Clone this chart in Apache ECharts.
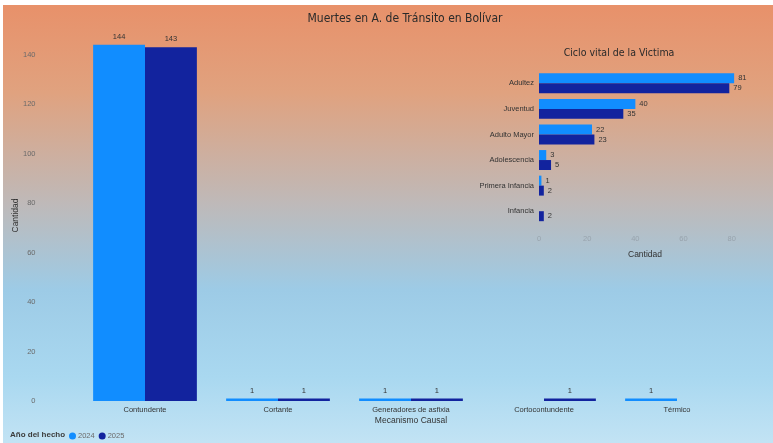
<!DOCTYPE html>
<html>
<head>
<meta charset="utf-8">
<script src="https://cdn.jsdelivr.net/npm/echarts@6/dist/echarts.min.js"></script>
<style>
html,body{margin:0;padding:0;background:#fff;}
#chart{width:773px;height:443px;}
</style>
</head>
<body>
<div id="chart"></div>
<script>
// Main chart data
const mecanismos = ['Contundente', 'Cortante', 'Generadores de asfixia', 'Cortocontundente', 'Térmico'];
const mec2024 = [144, 1, 1, null, 1];
const mec2025 = [143, 1, 1, 1, null];
const mainTicks = [0, 20, 40, 60, 80, 100, 120, 140];

// Inset chart data
const ciclos = ['Adultez', 'Juventud', 'Adulto Mayor', 'Adolescencia', 'Primera Infancia', 'Infancia'];
const ciclo2024 = [81, 40, 22, 3, 1, null];
const ciclo2025 = [79, 35, 23, 5, 2, 2];
const insetTicks = [0, 20, 40, 60, 80];

const years = ['2024', '2025'];
const C24 = '#118DFF', C25 = '#12239E';
const FONT = '"Liberation Sans", "DejaVu Sans", sans-serif';
const TFONT = '"DejaVu Sans Condensed", "Liberation Sans Narrow", sans-serif';

const chart = echarts.init(document.getElementById('chart'));
chart.setOption({
  backgroundColor: '#ffffff',
  textStyle: {fontFamily: FONT},
  graphic: [
    {type: 'rect', shape: {x: 3, y: 5, width: 770, height: 438}, z: -10, silent: true,
     style: {fill: new echarts.graphic.LinearGradient(0, 0, 0, 1, [
       {offset: 0, color: '#E8916A'},
       {offset: 0.2, color: '#E0A27F'},
       {offset: 0.45, color: '#BFB9B8'},
       {offset: 0.65, color: '#9DCBE6'},
       {offset: 0.85, color: '#A9D8F0'},
       {offset: 1, color: '#C2E3F4'}
     ])}},
    {type: 'text', left: 10, top: 431, style: {text: 'Año del hecho', fontSize: 8, fontWeight: 'bold', fill: '#3c3c3c', fontFamily: FONT}}
  ],
  title: [
    {text: 'Muertes en A. de Tránsito en Bolívar', left: 400, textAlign: 'center', top: 8,
     textStyle: {fontSize: 12, fontWeight: 'normal', color: '#2a2a2a', fontFamily: TFONT}},
    {text: 'Ciclo vital de la Victima', left: 614, textAlign: 'center', top: 43,
     textStyle: {fontSize: 10.5, fontWeight: 'normal', color: '#2a2a2a', fontFamily: TFONT}}
  ],
  legend: {
    data: years, left: 69, top: 432, icon: 'circle', itemWidth: 7, itemHeight: 7, itemGap: 4, padding: 0,
    textStyle: {fontSize: 7.5, color: '#6a6a6a', padding: [0, 0, 0, -3]}
  },
  grid: [
    {left: 78.5, right: 29.5, top: 30, bottom: 42, containLabel: false, outerBoundsMode: 'none'},
    {left: 539, width: 212, top: 70.5, bottom: 219, containLabel: false, outerBoundsMode: 'none'}
  ],
  xAxis: [
    {gridIndex: 0, type: 'category', data: mecanismos,
     axisLine: {show: false}, axisTick: {show: false},
     axisLabel: {fontSize: 7.5, color: '#333', margin: 5},
     name: 'Mecanismo Causal', nameLocation: 'middle', nameGap: 15, nameMoveOverlap: false,
     nameTextStyle: {fontSize: 8.5, color: '#333'}},
    {gridIndex: 1, type: 'value', min: 0, max: 88, interval: 20,
     axisLine: {show: false}, axisTick: {show: false}, splitLine: {show: false},
     axisLabel: {fontSize: 7.5, color: '#98a3ad', margin: 11, showMaxLabel: false,
       formatter: v => insetTicks.includes(v) ? String(v) : ''},
     name: 'Cantidad', nameLocation: 'middle', nameGap: 26, nameMoveOverlap: false,
     nameTextStyle: {fontSize: 8.5, color: '#333'}},
  ],
  yAxis: [
    {gridIndex: 0, type: 'value', min: 0, max: 150, interval: 20,
     axisLine: {show: false}, axisTick: {show: false}, splitLine: {show: false},
     axisLabel: {fontSize: 7.5, color: '#6a6a6a', margin: 43, showMaxLabel: false,
       formatter: v => mainTicks.includes(v) ? String(v) : ''},
     name: 'Cantidad', nameLocation: 'middle', nameGap: 58, nameRotate: 90, nameMoveOverlap: false,
     nameTextStyle: {fontSize: 8.5, color: '#333'}},
    {gridIndex: 1, type: 'category', data: ciclos, inverse: true,
     axisLine: {show: false}, axisTick: {show: false},
     axisLabel: {fontSize: 7.5, color: '#333', margin: 5}}
  ],
  series: [
    {name: '2024', type: 'bar', xAxisIndex: 0, yAxisIndex: 0, data: mec2024,
     itemStyle: {color: C24}, barGap: '0%', barCategoryGap: '22%',
     label: {show: true, position: 'top', distance: 4, fontSize: 7.5, color: '#333'}},
    {name: '2025', type: 'bar', xAxisIndex: 0, yAxisIndex: 0, data: mec2025,
     itemStyle: {color: C25}, barGap: '0%', barCategoryGap: '22%',
     label: {show: true, position: 'top', distance: 4, fontSize: 7.5, color: '#333'}},
    {name: '2024', type: 'bar', xAxisIndex: 1, yAxisIndex: 1, data: ciclo2024,
     itemStyle: {color: C24}, barGap: '0%', barCategoryGap: '22%',
     label: {show: true, position: 'right', distance: 4, fontSize: 7.5, color: '#333'}},
    {name: '2025', type: 'bar', xAxisIndex: 1, yAxisIndex: 1, data: ciclo2025,
     itemStyle: {color: C25}, barGap: '0%', barCategoryGap: '22%',
     label: {show: true, position: 'right', distance: 4, fontSize: 7.5, color: '#333'}}
  ]
});
</script>
</body>
</html>
